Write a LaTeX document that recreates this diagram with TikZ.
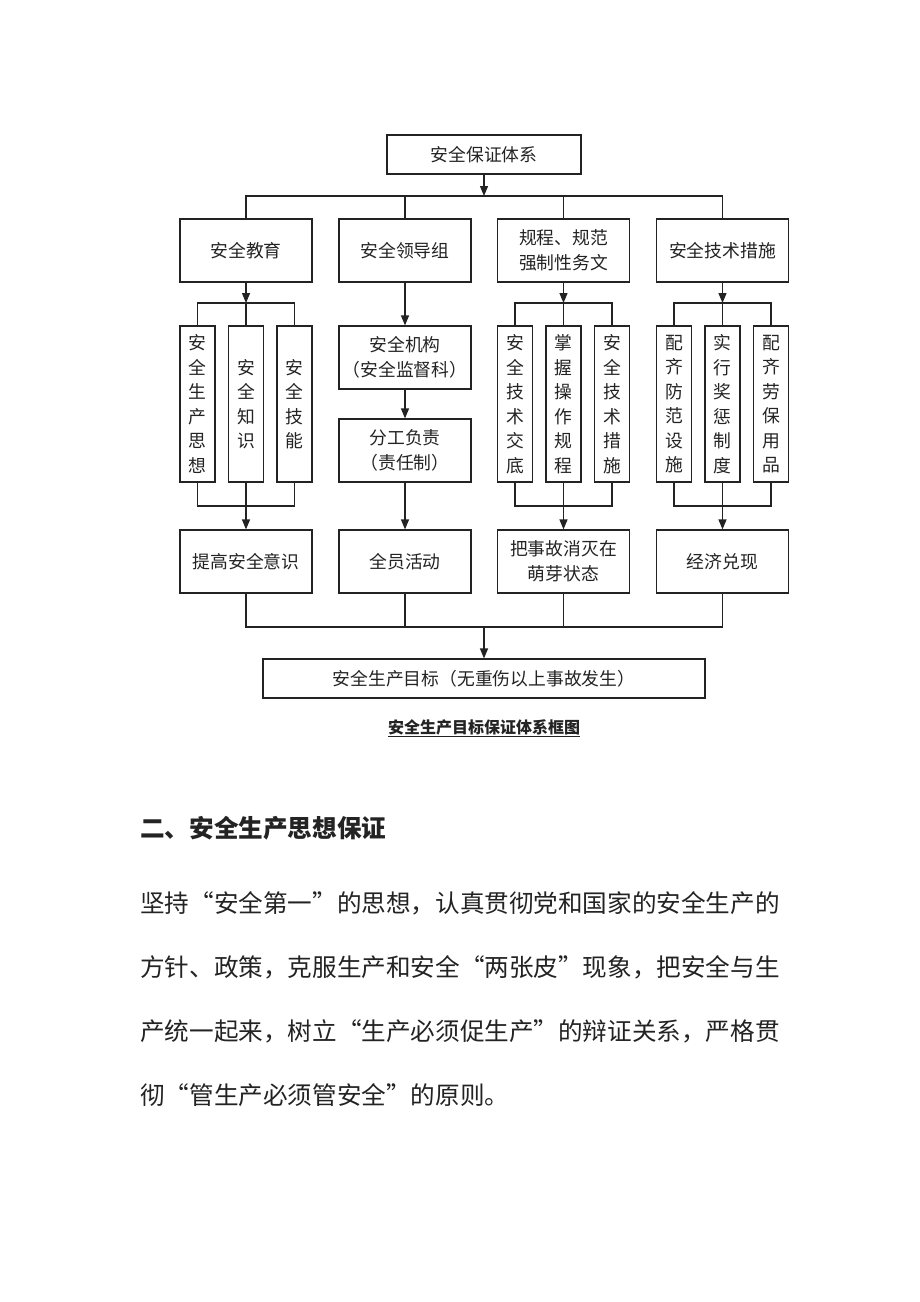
\documentclass[tikz,border=0pt]{standalone}
\usepackage{fontspec}
\setmainfont{Noto Sans CJK SC}
\usetikzlibrary{arrows.meta}
\definecolor{ink}{RGB}{35,35,35}
\tikzset{
  every node/.style={font=\fontsize{17.8}{25}\selectfont, text=ink},
  box/.style={draw=ink, line width=1.2pt, rectangle, inner sep=0pt, align=center,
              minimum width=132pt, minimum height=63pt},
  col/.style={box, minimum width=35pt, minimum height=156pt, font=\fontsize{17.8}{24.5}\selectfont},
  link/.style={draw=ink, line width=1.2pt},
  arr/.style={link, -{Triangle[length=10pt,width=8pt]}},
  body/.style={anchor=west, inner sep=0pt, font=\fontsize{24.6}{25}\selectfont}
}
\begin{document}
\begin{tikzpicture}[x=1pt, y=-1pt]
\useasboundingbox (0,0) rectangle (920,1302);
\fill[white] (0,0) rectangle (920,1302);

% top
\node[box, minimum width=194pt, minimum height=39pt] (top) at (484,154.5) {安全保证体系};
\coordinate (bus1) at (484,196);

% level 1
\node[box] (l1a) at (246,250.5) {安全教育};
\node[box] (l1b) at (405,250.5) {安全领导组};
\node[box] (l1c) at (563.5,250.5) {规程、规范\\强制性务文};
\node[box] (l1d) at (722.5,250.5) {安全技术措施};

% column boxes
\node[col] (a1) at (197.5,404) {安\\全\\生\\产\\思\\想};
\node[col] (a2) at (246,404) {安\\全\\知\\识};
\node[col] (a3) at (294.5,404) {安\\全\\技\\能};

\node[box] (b1) at (405,357.5) {安全机构\\（安全监督科）};
\node[box] (b2) at (405,450.5) {分工负责\\（责任制）};

\node[col] (c1) at (515,404) {安\\全\\技\\术\\交\\底};
\node[col] (c2) at (563.5,404) {掌\\握\\操\\作\\规\\程};
\node[col] (c3) at (612,404) {安\\全\\技\\术\\措\\施};

\node[col] (d1) at (674,404) {配\\齐\\防\\范\\设\\施};
\node[col] (d2) at (722.5,404) {实\\行\\奖\\惩\\制\\度};
\node[col] (d3) at (771,404) {配\\齐\\劳\\保\\用\\品};

% level 3
\node[box] (l3a) at (246,561.5) {提高安全意识};
\node[box] (l3b) at (405,561.5) {全员活动};
\node[box] (l3c) at (563.5,561.5) {把事故消灭在\\萌芽状态};
\node[box] (l3d) at (722.5,561.5) {经济兑现};

% final
\node[box, minimum width=442pt, minimum height=39pt] (goal) at (484,678.5) {安全生产目标（无重伤以上事故发生）};
\coordinate (bus4) at (484,627);

\node[font=\fontsize{16}{18}\selectfont\bfseries] (cap) at (484,728) {\underline{安全生产目标保证体系框图}};

% connectors: top
\draw[arr] (top) -- (bus1);
\draw[link] (l1a.north) |- (bus1) -| (l1d.north);
\draw[link] (l1b.north) -- (l1b.north |- bus1);
\draw[link] (l1c.north) -- (l1c.north |- bus1);

% column A
\coordinate (at) at (246,303);
\coordinate (ab) at (246,506);
\draw[arr] (l1a) -- (at);
\draw[link] (a1.north) |- (at) -| (a3.north);
\draw[link] (a2.north) -- (at);
\draw[link] (a1.south) |- (ab) -| (a3.south);
\draw[arr] (a2) -- (l3a);

% column B
\draw[arr] (l1b) -- (b1);
\draw[arr] (b1) -- (b2);
\draw[arr] (b2) -- (l3b);

% column C
\coordinate (ct) at (563.5,303);
\coordinate (cb) at (563.5,506);
\draw[arr] (l1c) -- (ct);
\draw[link] (c1.north) |- (ct) -| (c3.north);
\draw[link] (c2.north) -- (ct);
\draw[link] (c1.south) |- (cb) -| (c3.south);
\draw[arr] (c2) -- (l3c);

% column D
\coordinate (dt) at (722.5,303);
\coordinate (db) at (722.5,506);
\draw[arr] (l1d) -- (dt);
\draw[link] (d1.north) |- (dt) -| (d3.north);
\draw[link] (d2.north) -- (dt);
\draw[link] (d1.south) |- (db) -| (d3.south);
\draw[arr] (d2) -- (l3d);

% bottom bus
\draw[link] (l3a.south) |- (bus4) -| (l3d.south);
\draw[link] (l3b.south) -- (l3b.south |- bus4);
\draw[link] (l3c.south) -- (l3c.south |- bus4);
\draw[arr] (bus4) -- (goal);

% text below
\node[body, font=\fontsize{24.6}{25}\selectfont\bfseries] (h) at (140,828) {二、安全生产思想保证};
\node[body] (p1) at (140,903) {坚持“安全第一”的思想，认真贯彻党和国家的安全生产的};
\node[body] (p2) at (140,967) {方针、政策，克服生产和安全“两张皮”现象，把安全与生};
\node[body] (p3) at (140,1031) {产统一起来，树立“生产必须促生产”的辩证关系，严格贯};
\node[body] (p4) at (140,1095) {彻“管生产必须管安全”的原则。};
\end{tikzpicture}
\end{document}
